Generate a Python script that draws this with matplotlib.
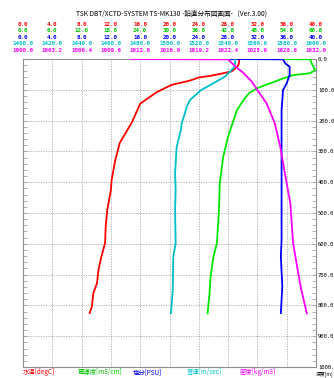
import numpy as np
import matplotlib
matplotlib.use("Agg")
import matplotlib.pyplot as plt
from matplotlib.transforms import blended_transform_factory
from matplotlib.ticker import MultipleLocator

plt.rcParams['font.family'] = ['DejaVu Sans Mono', 'Noto Sans CJK JP']
JP = ['Noto Sans CJK JP', 'DejaVu Sans']

# profile data (depth in m)
temp_depth = [0, 10, 20, 30, 40, 48, 55, 60, 70, 84, 107, 145, 204, 273, 328, 393, 425, 490, 540, 598, 642, 685, 728, 760, 804, 825]
temp = [29.5, 29.5, 29.4, 29.0, 28.5, 27.0, 25.5, 24.0, 22.8, 20.3, 18.3, 16.0, 14.9, 13.2, 12.6, 12.1, 12.0, 11.5, 11.3, 11.2, 10.7, 10.3, 10.1, 9.6, 9.4, 9.1]

cond_depth = [0, 1, 14, 36, 46, 52, 63, 79, 95, 111, 130, 166, 252, 317, 404, 500, 598, 642, 707, 761, 826]
cond = [53.2, 58.8, 59.1, 59.8, 58.8, 55.4, 53.3, 50.6, 47.9, 46.3, 45.3, 43.8, 42.0, 41.0, 40.3, 40.1, 39.7, 39.0, 38.4, 38.2, 37.8]

sal_depth = [0, 1, 14, 25, 52, 79, 101, 166, 295, 458, 588, 642, 739, 825]
sal = [28.3, 35.5, 35.8, 36.4, 36.4, 36.0, 35.5, 35.3, 35.3, 35.3, 35.3, 35.2, 35.4, 35.2]

sound_depth = [0, 14, 30, 57, 79, 101, 133, 155, 175, 209, 230, 285, 371, 425, 490, 598, 642, 750, 825]
sound = [1545.0, 1544.7, 1543.6, 1537.9, 1529.9, 1521.5, 1514.0, 1511.7, 1510.6, 1508.3, 1507.8, 1504.9, 1503.8, 1504.2, 1503.8, 1504.2, 1502.6, 1502.2, 1501.0]

dens_depth = [0, 1, 19, 46, 74, 101, 144, 209, 285, 371, 469, 598, 685, 750, 826]
dens = [1011.8, 1022.4, 1023.0, 1024.1, 1025.0, 1025.6, 1026.6, 1027.5, 1028.1, 1028.6, 1029.2, 1029.5, 1030.0, 1030.4, 1031.0]

# header scale labels
temp_ticks = [0.0, 4.0, 8.0, 12.0, 16.0, 20.0, 24.0, 28.0, 32.0, 36.0, 40.0]
cond_ticks = [0.0, 6.0, 12.0, 18.0, 24.0, 30.0, 36.0, 42.0, 48.0, 54.0, 60.0]
sal_ticks = [0.0, 4.0, 8.0, 12.0, 16.0, 20.0, 24.0, 28.0, 32.0, 36.0, 40.0]
sound_ticks = [1400.0, 1420.0, 1440.0, 1460.0, 1480.0, 1500.0, 1520.0, 1540.0, 1560.0, 1580.0, 1600.0]
dens_ticks = [1000.0, 1003.2, 1006.4, 1009.6, 1012.8, 1016.0, 1019.2, 1022.4, 1025.6, 1028.8, 1032.0]
depth_ticks = [0, 100, 200, 300, 400, 500, 600, 700, 800, 900, 1000]
depth_labels = ["0.0", "100.0", "200.0", "300.0", "400.0", "500.0",
                "600.0", "700.0", "800.0", "900.0", "1000."]

title = "TSK DBT/XCTD-SYSTEM TS-MK130 -鉛直分布図画面-   (Ver.3.00)"
bottom_labels = ["水温[degC]", "電導度[mS/cm]", "塩分[PSU]", "音速[m/sec]", "密度[kg/m3]"]
bottom_x = [23, 78, 133, 187, 240]

red, green, blue, cyan, magenta = '#ff0000', '#00e800', '#0000ff', '#00c0c8', '#ff00ff'
label_green = '#00c800'

W, H = 334, 378
fig = plt.figure(figsize=(W / 100, H / 100), dpi=100)
ax = fig.add_axes([23 / W, 11 / H, 293 / W, 308 / H])

ax.set_xlim(0, 40)
ax.set_ylim(1000, 0)
ax.set_xticks(temp_ticks)
ax.set_yticks(depth_ticks)
ax.yaxis.set_minor_locator(MultipleLocator(20))
ax.grid(True, which='major', color='#a8a8a8', linestyle=(0, (1.5, 1.5)), linewidth=0.6)
ax.tick_params(axis='x', length=0, labelbottom=False)
ax.tick_params(axis='y', which='both', direction='in', left=True, right=True,
               labelleft=False, labelright=True, length=3, width=0.5,
               color='#909090', labelsize=4, pad=1.5)
ax.set_yticklabels(depth_labels)
for s in ax.spines.values():
    s.set_color('#909090')
    s.set_linewidth(0.8)

series = [
    (temp_depth, temp, (0, 40), temp_ticks, red, red),
    (cond_depth, cond, (0, 60), cond_ticks, green, label_green),
    (sal_depth, sal, (0, 40), sal_ticks, blue, blue),
    (sound_depth, sound, (1400, 1600), sound_ticks, cyan, cyan),
    (dens_depth, dens, (1000, 1032), dens_ticks, magenta, magenta),
]

row_y = [24.3, 31.0, 37.3, 43.7, 50.0]
for i, (dep, val, lim, ticks, col, lcol) in enumerate(series):
    t = ax.twiny()
    t.set_xlim(*lim)
    t.set_ylim(1000, 0)
    t.axis('off')
    t.plot(val, dep, color=col, linewidth=1.3, solid_joinstyle='miter')
    tr = blended_transform_factory(t.transData, fig.transFigure)
    for v in ticks:
        fig.text(v, 1 - row_y[i] / H, f"{v:.1f}", transform=tr, ha='center',
                 va='center', fontsize=4.2, color=lcol, fontweight='bold')

fig.text(172 / W, 1 - 14 / H, title, ha='center', va='center', fontsize=4.8,
         color='black', family=JP)

for lab, x, (_, _, _, _, _, lcol) in zip(bottom_labels, bottom_x, series):
    fig.text(x / W, 1 - 372 / H, lab, ha='left', va='center', fontsize=4.6,
             color=lcol, family=JP)
fig.text(316 / W, 1 - 374 / H, "深度[m]", ha='left', va='center', fontsize=3.5,
         color='black', family=JP)

fig.savefig("out.png", dpi=100)
